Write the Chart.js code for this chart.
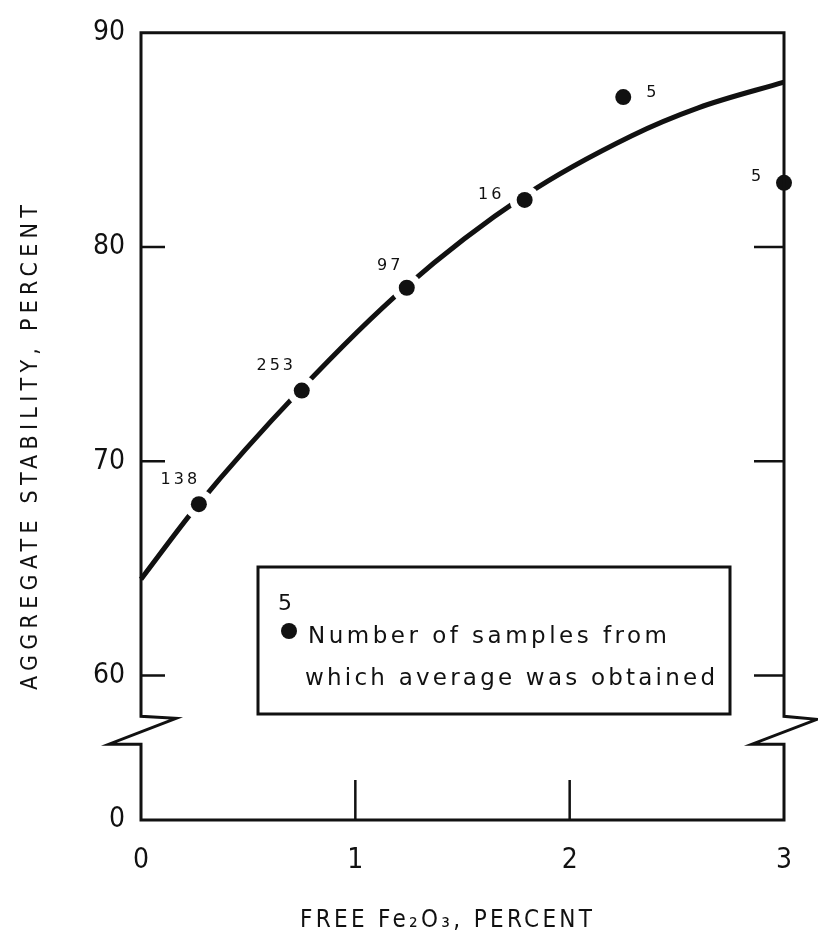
<!DOCTYPE html>
<html>
<head>
<meta charset="utf-8">
<script src="https://cdn.jsdelivr.net/npm/chart.js@4"></script>
<style>
  html, body { margin: 0; padding: 0; background: #fff; }
  #wrap { width: 818px; height: 947px; }
</style>
</head>
<body>
<div id="wrap"><canvas id="stabilityChart"></canvas></div>
<script>
// averages: free Fe2O3 (percent) vs aggregate stability (percent)
const pointFe = [0.27, 0.75, 1.24, 1.79, 2.25, 3.0];
const pointStability = [68.0, 73.3, 78.1, 82.2, 87.0, 83.0];
const sampleCounts = ["138", "253", "97", "16", "5", "5"];

// the hand drawn curve
const curveFe = [0, 0.26, 0.74, 1.23, 1.79, 2.29, 2.6, 3.0];
const curveStability = [64.5, 67.9, 73.3, 78.1, 82.4, 85.2, 86.5, 87.7];

const xTicks = [0, 1, 2, 3];
const yTicks = [60, 70, 80, 90];
const yBrokenLabel = "0";

const ink = "#111";
const yFloor = 53.26;     // axis value drawn as the broken "0"
const breakHigh = 58.1;
const breakLow = 56.8;

// label offsets (px) from each point
const countOffsets = [[-20, -24], [-27, -25], [-18, -22], [-35, -5], [28, -4], [-28, -6]];

const letterFont = "'DejaVu Sans Condensed', 'Liberation Sans Narrow', 'DejaVu Sans', sans-serif";

function spacedText(ctx, text, x, y, spacing) {
  ctx.letterSpacing = spacing + "px";
  ctx.fillText(text, x, y);
  ctx.letterSpacing = "0px";
}

// spacing that makes a string fill a given width
function fitSpacing(ctx, text, width) {
  ctx.letterSpacing = "0px";
  return (width - ctx.measureText(text).width) / (text.length - 1);
}

const frameDecor = {
  id: "frameDecor",
  afterDatasetsDraw(chart) {
    const { ctx, chartArea: a, scales } = chart;
    const x = scales.x, y = scales.y;
    ctx.save();
    ctx.strokeStyle = ink;
    ctx.fillStyle = ink;
    ctx.lineWidth = 3;
    ctx.lineJoin = "miter";

    // frame with the two axis breaks
    const yHi = y.getPixelForValue(breakHigh);
    const yLo = y.getPixelForValue(breakLow);
    ctx.beginPath();
    ctx.moveTo(a.left, yHi);
    ctx.lineTo(a.left, a.top);
    ctx.lineTo(a.right, a.top);
    ctx.lineTo(a.right, yHi);
    ctx.lineTo(a.right + 33, yHi + 3);
    ctx.lineTo(a.right - 32, yLo);
    ctx.lineTo(a.right, yLo);
    ctx.lineTo(a.right, a.bottom);
    ctx.lineTo(a.left, a.bottom);
    ctx.lineTo(a.left, yLo);
    ctx.lineTo(a.left - 32, yLo);
    ctx.lineTo(a.left + 35, yHi + 2);
    ctx.closePath();
    ctx.stroke();

    // inward ticks
    ctx.lineWidth = 2.5;
    ctx.beginPath();
    yTicks.forEach(v => {
      if (v >= y.max) return;
      const py = y.getPixelForValue(v);
      ctx.moveTo(a.left, py); ctx.lineTo(a.left + 24, py);
      ctx.moveTo(a.right, py); ctx.lineTo(a.right - 30, py);
    });
    xTicks.forEach(v => {
      if (v <= x.min || v >= x.max) return;
      const px = x.getPixelForValue(v);
      ctx.moveTo(px, a.bottom); ctx.lineTo(px, a.bottom - 40);
    });
    ctx.stroke();

    // sample counts next to the points
    ctx.font = "16px 'DejaVu Sans', sans-serif";
    ctx.textAlign = "center";
    ctx.textBaseline = "middle";
    pointFe.forEach((fe, i) => {
      const px = x.getPixelForValue(fe) + countOffsets[i][0];
      const py = y.getPixelForValue(pointStability[i]) + countOffsets[i][1];
      spacedText(ctx, sampleCounts[i], px + 1.5, py, 3);
    });

    // key box
    ctx.lineWidth = 3;
    ctx.fillStyle = "#fff";
    ctx.fillRect(258, 567, 472, 147);
    ctx.strokeRect(258, 567, 472, 147);
    ctx.fillStyle = ink;
    ctx.font = "22px 'DejaVu Sans', sans-serif";
    ctx.textAlign = "center";
    ctx.fillText("5", 285, 604);
    ctx.beginPath();
    ctx.arc(289, 631, 8, 0, Math.PI * 2);
    ctx.fill();
    ctx.textAlign = "left";
    ctx.textBaseline = "alphabetic";
    ctx.font = "23px 'DejaVu Sans', sans-serif";
    const line1 = "Number of samples from";
    const line2 = "which average was obtained";
    spacedText(ctx, line1, 308, 643, fitSpacing(ctx, line1, 359));
    spacedText(ctx, line2, 305, 685, fitSpacing(ctx, line2, 410));

    // axis titles
    ctx.font = "24px " + letterFont;
    ctx.textAlign = "left";
    ctx.textBaseline = "middle";
    const xTitle = "FREE Fe\u2082O\u2083, PERCENT";
    spacedText(ctx, xTitle, 300, 921, fitSpacing(ctx, xTitle, 292));
    const yTitle = "AGGREGATE STABILITY, PERCENT";
    ctx.font = "23px " + letterFont;
    const ySp = fitSpacing(ctx, yTitle, 485);
    ctx.translate(31, 690);
    ctx.rotate(-Math.PI / 2);
    spacedText(ctx, yTitle, 0, 0, ySp);
    ctx.restore();
  }
};

const ctx = document.getElementById("stabilityChart");

new Chart(ctx, {
  type: "scatter",
  data: {
    datasets: [
      {
        type: "line",
        data: curveFe.map((v, i) => ({ x: v, y: curveStability[i] })),
        borderColor: ink,
        borderWidth: 5,
        pointRadius: 0,
        cubicInterpolationMode: "monotone",
        fill: false,
        clip: false,
        order: 3,
      },
      {
        // white halo that breaks the curve around each average
        data: pointFe.map((v, i) => ({ x: v, y: pointStability[i] })),
        pointRadius: [15, 15, 15, 15, 0, 0],
        backgroundColor: "#fff",
        borderWidth: 0,
        clip: false,
        order: 2,
      },
      {
        data: pointFe.map((v, i) => ({ x: v, y: pointStability[i] })),
        pointRadius: 8,
        backgroundColor: ink,
        borderWidth: 0,
        clip: false,
        order: 1,
      },
    ],
  },
  options: {
    responsive: true,
    maintainAspectRatio: false,
    animation: false,
    layout: { padding: { top: 30, right: 34, bottom: 0, left: 0 } },
    plugins: { legend: { display: false }, tooltip: { enabled: false } },
    scales: {
      x: {
        type: "linear",
        min: 0,
        max: 3,
        grid: { display: false, drawTicks: false },
        border: { display: false },
        afterBuildTicks: s => { s.ticks = xTicks.map(v => ({ value: v })); },
        afterFit: s => { s.height = 127; },
        ticks: {
          color: ink,
          padding: 24,
          font: { family: letterFont, size: 28 },
        },
      },
      y: {
        type: "linear",
        min: yFloor,
        max: 90,
        grid: { display: false, drawTicks: false },
        border: { display: false },
        afterBuildTicks: s => { s.ticks = [yFloor].concat(yTicks).map(v => ({ value: v })); },
        afterFit: s => { s.width = 141; },
        ticks: {
          color: ink,
          padding: 16,
          font: { family: letterFont, size: 28 },
          callback: v => (v === yFloor ? yBrokenLabel : String(v)),
        },
      },
    },
  },
  plugins: [frameDecor],
});
</script>
</body>
</html>
